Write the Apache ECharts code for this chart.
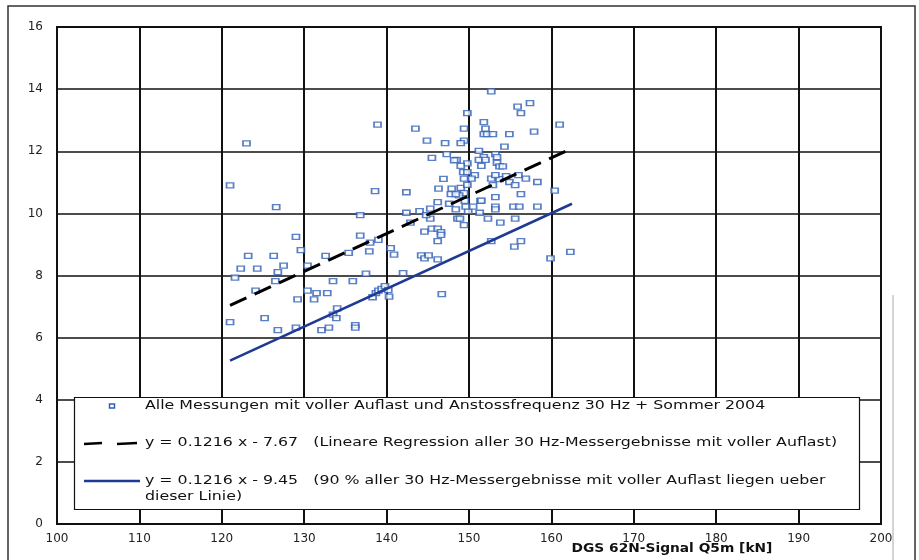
<!DOCTYPE html>
<html>
<head>
<meta charset="utf-8">
<script src="https://cdn.jsdelivr.net/npm/echarts@6/dist/echarts.min.js"></script>
<style>
html,body{margin:0;padding:0;background:#fff;}
#chart{width:919px;height:560px;}
</style>
</head>
<body>
<div id="chart"></div>
<script>
// Measurements (x = DGS 62N-Signal Q5m [kN], y)
var measX = [121.0,123.0,121.0,126.6,129.0,129.6,123.2,126.3,132.6,138.9,138.6,136.8,136.8,138.0,139.0,137.9,135.4,140.5,140.9,122.3,
124.3,127.5,126.8,121.6,126.5,124.1,130.4,137.5,133.5,135.9,130.4,131.5,132.8,129.2,131.2,125.2,126.8,129.0,132.1,133.0,
136.2,136.2,134.0,133.5,133.9,138.3,138.7,139.0,139.4,139.8,140.2,140.3,144.2,144.6,145.1,146.2,146.2,142.0,146.7,152.7,
155.5,156.3,159.9,162.3,149.4,148.6,148.9,152.3,153.8,155.6,151.3,153.2,153.2,155.4,156.1,158.3,149.9,149.6,150.5,149.5,
151.4,152.7,155.9,156.3,157.4,149.8,151.8,152.0,161.0,149.4,151.8,152.2,152.9,154.9,157.9,149.4,149.0,154.3,151.2,153.2,
153.4,151.8,151.2,152.0,153.4,153.7,154.1,151.5,149.8,149.0,149.3,149.8,150.7,150.3,152.7,153.7,153.2,154.5,156.0,156.9,
158.3,154.9,155.6,152.9,156.3,153.2,160.4,151.5,148.5,149.4,149.0,149.8,149.4,148.8,143.5,144.9,147.1,145.5,147.3,148.2,
146.9,142.4,146.3,147.9,147.8,148.4,146.2,147.6,142.4,144.0,145.3,145.3,144.8,148.4,142.9,144.6,145.5,146.2,146.6,146.6];
var measY = [10.90,12.25,6.50,10.20,9.24,8.82,8.63,8.63,8.63,12.86,10.72,9.94,9.28,9.06,9.15,8.78,8.73,8.88,8.67,8.22,
8.22,8.32,8.11,7.93,7.82,7.51,8.32,8.06,7.82,7.82,7.51,7.43,7.43,7.23,7.23,6.63,6.24,6.32,6.24,6.32,
6.40,6.32,6.94,6.74,6.63,7.30,7.43,7.51,7.57,7.66,7.53,7.32,8.65,8.55,8.65,8.52,9.11,8.08,7.40,9.11,
8.93,9.11,8.55,8.76,9.62,9.83,9.83,9.83,9.70,9.83,10.02,10.22,10.13,10.22,10.22,10.22,10.07,10.22,10.22,10.40,
10.40,13.93,13.44,13.23,13.55,13.23,12.94,12.73,12.86,12.73,12.55,12.55,12.55,12.55,12.63,12.34,12.26,12.15,12.01,11.91,
11.81,11.81,11.72,11.72,11.63,11.51,11.51,11.53,11.61,11.53,11.33,11.33,11.23,11.12,11.12,11.10,11.23,11.20,11.23,11.12,
11.01,11.01,10.91,10.91,10.62,10.52,10.73,10.41,11.72,11.12,10.82,10.92,10.65,10.58,12.73,12.34,12.26,11.79,11.91,11.71,
11.11,10.68,10.80,10.80,10.62,10.62,10.36,10.31,10.02,10.07,10.15,9.83,9.94,10.13,9.70,9.41,9.51,9.51,9.40,9.31];

// Line endpoints
var regX = [121, 162.5];
var regY = [7.04, 12.09];   // y = 0.1216 x - 7.67
var limX = [121, 162.5];
var limY = [5.26, 10.31];   // y = 0.1216 x - 9.45

var xTicks = {min:100, max:200, interval:10};
var yTicks = {min:0, max:16, interval:2};

var legendTexts = [
  'Alle Messungen mit voller Auflast und Anstossfrequenz 30 Hz + Sommer 2004',
  'y = 0.1216 x - 7.67   (Lineare Regression aller 30 Hz-Messergebnisse mit voller Auflast)',
  'y = 0.1216 x - 9.45   (90 % aller 30 Hz-Messergebnisse mit voller Auflast liegen ueber',
  'dieser Linie)'
];
var xAxisTitle = 'DGS 62N-Signal Q5m [kN]';

function zip(a, b){ var r=[]; for (var i=0;i<a.length;i++) r.push([a[i], b[i]]); return r; }

var FONT = 'DejaVu Sans';
var LS = 1.215;
function legText(i, y){
  return {type:'text', z:101, x:145, y:y, scaleX:LS,
    style:{text:legendTexts[i], font:'13px "DejaVu Sans"', fill:'#111', textVerticalAlign:'middle'}};
}
var chart = echarts.init(document.getElementById('chart'), null, {renderer:'canvas'});
chart.setOption({
  animation:false,
  backgroundColor:'#fff',
  grid:{left:57, right:38, top:27, bottom:36, show:true, borderColor:'#111', borderWidth:2},
  xAxis:{type:'value', min:xTicks.min, max:xTicks.max, interval:xTicks.interval,
    axisLine:{show:true, lineStyle:{color:'#111', width:2}},
    axisTick:{show:false},
    axisLabel:{color:'#222', fontFamily:FONT, fontSize:12, margin:9},
    splitLine:{show:true, lineStyle:{color:'#111', width:2}}},
  yAxis:{type:'value', min:yTicks.min, max:yTicks.max, interval:yTicks.interval,
    axisLine:{show:true, lineStyle:{color:'#111', width:2}},
    axisTick:{show:false},
    axisLabel:{color:'#222', fontFamily:FONT, fontSize:12, margin:14},
    splitLine:{show:true, lineStyle:{color:'#111', width:1.6}}},
  series:[
    {type:'scatter', data:zip(measX, measY), symbol:'rect', symbolSize:[7,5], z:3,
     itemStyle:{color:'#fff', borderColor:'#2f5fb8', borderWidth:1.5}},
    {type:'line', data:zip(regX, regY), showSymbol:false, z:4,
     lineStyle:{color:'#000', width:3, type:[18,9]}},
    {type:'line', data:zip(limX, limY), showSymbol:false, z:4,
     lineStyle:{color:'#1f3a93', width:2.5}}
  ],
  graphic:[
    {type:'rect', z:100, shape:{x:8, y:6, width:907, height:600}, style:{fill:null, stroke:'#333', lineWidth:1.5}},
    {type:'line', z:100, shape:{x1:893, y1:295, x2:893, y2:560}, style:{stroke:'#aaa', lineWidth:1}},
    {type:'rect', z:100, shape:{x:74.5, y:397.5, width:785, height:112}, style:{fill:'#fff', stroke:'#111', lineWidth:1.2}},
    {type:'rect', z:101, shape:{x:109.5, y:404, width:5, height:4}, style:{fill:'#fff', stroke:'#2f5fb8', lineWidth:1.5}},
    {type:'line', z:101, shape:{x1:84, y1:444, x2:102, y2:443}, style:{stroke:'#000', lineWidth:2.5}},
    {type:'line', z:101, shape:{x1:117, y1:444, x2:137, y2:443}, style:{stroke:'#000', lineWidth:2.5}},
    {type:'line', z:101, shape:{x1:84, y1:481, x2:140, y2:481}, style:{stroke:'#1f3a93', lineWidth:2.5}},
    legText(0, 406), legText(1, 443), legText(2, 481), legText(3, 497),
    {type:'text', z:101, x:672, y:549, scaleX:1.06, style:{text:xAxisTitle, font:'bold 13px "DejaVu Sans"', fill:'#111', textAlign:'center', textVerticalAlign:'middle'}}
  ]
});
</script>
</body>
</html>
